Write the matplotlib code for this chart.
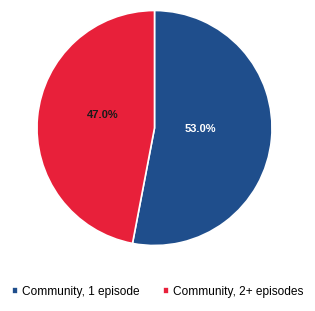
import matplotlib
matplotlib.use("Agg")
from matplotlib import pyplot as plt

labels = ["Community, 1 episode", "Community, 2+ episodes"]
values = [53.0, 47.0]
colors = ["#1F4E8C", "#E8203A"]
label_colors = ["white", "#1a1a1a"]

plt.rcParams['font.family'] = ['Liberation Sans', 'DejaVu Sans']

fig = plt.figure(figsize=(3.15, 3.11), dpi=100)
r = 117.5
cx, cy = 154.5, 128
ax = fig.add_axes([(cx - r) / 315, (311 - cy - r) / 311, 2 * r / 315, 2 * r / 311])

wedges, texts, autotexts = ax.pie(values, colors=colors, startangle=90, counterclock=False,
                                  autopct='%.1f%%', pctdistance=0.42,
                                  wedgeprops=dict(edgecolor='white', linewidth=1.2))
for t, c in zip(autotexts, label_colors):
    t.set_color(c)
    t.set_fontsize(8)
    t.set_fontweight('bold')
# Excel-like label placement
autotexts[0].set_position((0.39, -0.01))
autotexts[1].set_position((-0.44, 0.11))
ax.set_aspect('auto')
ax.set_xlim(-1, 1)
ax.set_ylim(-1, 1)

fig.legend(wedges, labels, loc='center', bbox_to_anchor=(0.5, (311 - 292) / 311),
           ncol=2, frameon=False, fontsize=8.6, handlelength=0.5, handleheight=0.5,
           handletextpad=0.3, columnspacing=2.0)

plt.savefig('out.png', dpi=100)
